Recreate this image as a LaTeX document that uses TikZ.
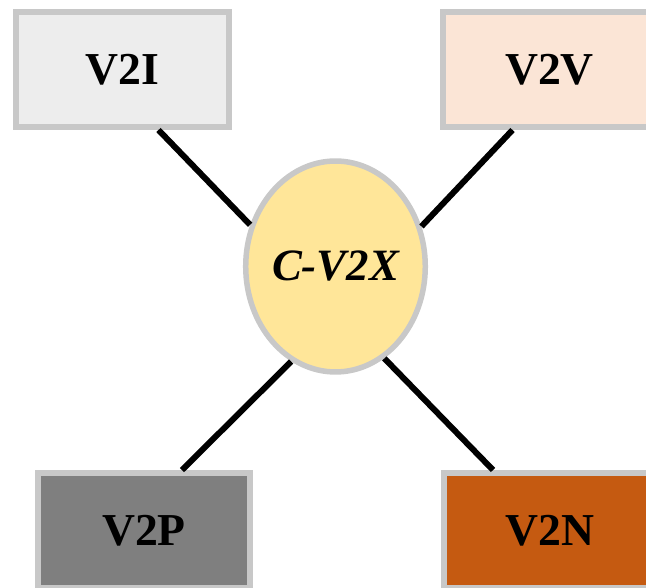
\documentclass[tikz,border=0pt]{standalone}
\usepackage{fontspec}
\setmainfont{Liberation Serif}
\usetikzlibrary{shapes.geometric}

\definecolor{edgegray}{HTML}{C8C8C8}
\definecolor{fillI}{HTML}{EDEDED}
\definecolor{fillV}{HTML}{FBE5D6}
\definecolor{fillP}{HTML}{7F7F7F}
\definecolor{fillN}{HTML}{C55A11}
\definecolor{fillC}{HTML}{FFE699}

\begin{document}
\begin{tikzpicture}[x=0.02cm, y=0.02cm]

\tikzstyle{box} = [rectangle, draw=edgegray, line width=0.12cm, minimum width=4.26cm, minimum height=2.3cm, font=\fontsize{26}{30}\selectfont\bfseries]
\tikzstyle{hub} = [ellipse, draw=edgegray, line width=0.11cm, inner sep=0pt, minimum width=3.38cm, minimum height=4.22cm, font=\fontsize{25.5}{30}\selectfont\bfseries\itshape]
\tikzstyle{link} = [line width=0.12cm, black, -]

\clip (0,0) rectangle (646,588);

% Centre
\node (cv2x) [hub, fill=fillC] at (335.5,321.5) {C-V2X};

% Boxes
\node (v2i) [box, fill=fillI] at (122.5,518.5) {V2I};
\node (v2v) [box, fill=fillV] at (549.5,518.5) {V2V};
\node (v2p) [box, fill=fillP] at (144,57.5) {V2P};
\node (v2n) [box, fill=fillN] at (550,57.5) {V2N};

% Links
\draw [link] ([xshift=0.72cm]v2i.south) -- (cv2x.154);
\draw [link] ([xshift=-0.74cm]v2v.south) -- (cv2x.25);
\draw [link] ([xshift=0.76cm]v2p.north) -- (cv2x.245);
\draw [link] ([xshift=-1.14cm]v2n.north) -- (cv2x.-62);

\end{tikzpicture}
\end{document}
